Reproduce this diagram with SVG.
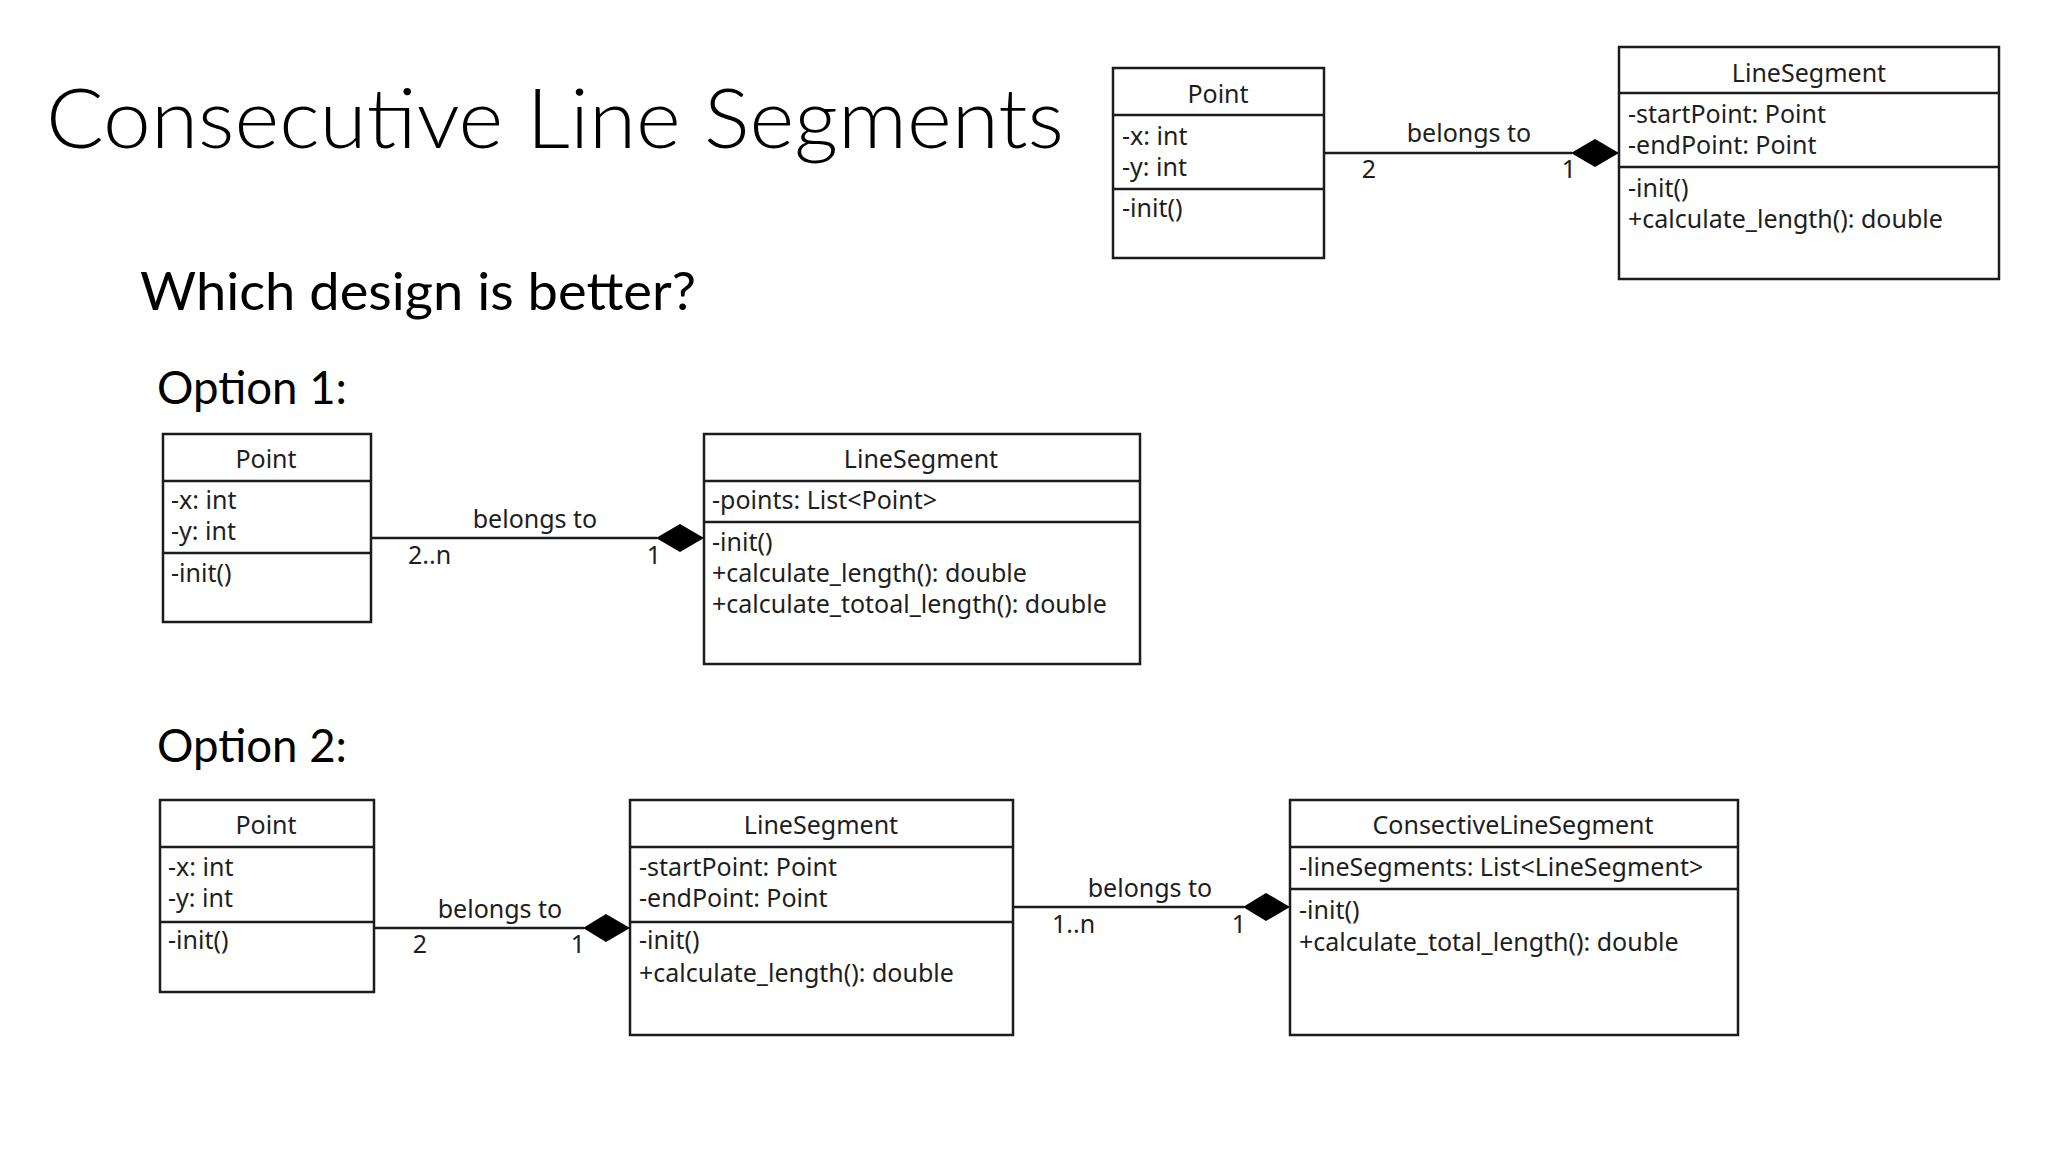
<svg xmlns="http://www.w3.org/2000/svg" width="2048" height="1152" viewBox="0 0 2048 1152">
<style>
.bg{fill:#ffffff}
.box{fill:#ffffff;stroke:#1c1c1c;stroke-width:2.5}
.sep{stroke:#1c1c1c;stroke-width:2.5}
.edge{stroke:#1c1c1c;stroke-width:2.5;fill:none}
.dia{fill:#000000}
.t{font-family:"Noto Sans","Open Sans","DejaVu Sans",sans-serif;font-size:25px;fill:#1e1e1e}
.c{text-anchor:middle}
.h{font-family:Lato,"Open Sans","Liberation Sans",sans-serif;fill:#000000}
.light{font-weight:300}
</style>
<rect class="bg" x="0" y="0" width="2048" height="1152"/>
<g id="headings">
<text class="h light" x="46" y="148" font-size="82" textLength="1018" lengthAdjust="spacingAndGlyphs">Consecutive Line Segments</text>
<text class="h" x="140" y="310" font-size="52" textLength="556" lengthAdjust="spacingAndGlyphs">Which design is better?</text>
<text class="h" x="157" y="404" font-size="46" textLength="190" lengthAdjust="spacingAndGlyphs">Option 1:</text>
<text class="h" x="157" y="762" font-size="46" textLength="190" lengthAdjust="spacingAndGlyphs">Option 2:</text>
</g>

<!-- Top diagram -->
<g id="top-point">
<rect class="box" x="1113" y="68" width="211" height="190"/>
<line class="sep" x1="1113" y1="115" x2="1324" y2="115"/>
<line class="sep" x1="1113" y1="189" x2="1324" y2="189"/>
<text class="t c" x="1218" y="103">Point</text>
<text class="t" x="1122" y="145">-x: int</text>
<text class="t" x="1122" y="176">-y: int</text>
<text class="t" x="1122" y="217">-init()</text>
</g>
<g id="top-linesegment">
<rect class="box" x="1619" y="47" width="380" height="232"/>
<line class="sep" x1="1619" y1="93" x2="1999" y2="93"/>
<line class="sep" x1="1619" y1="167" x2="1999" y2="167"/>
<text class="t c" x="1809" y="82">LineSegment</text>
<text class="t" x="1628" y="123">-startPoint: Point</text>
<text class="t" x="1628" y="154">-endPoint: Point</text>
<text class="t" x="1628" y="197">-init()</text>
<text class="t" x="1628" y="228">+calculate_length(): double</text>
</g>

<!-- Option 1 -->
<g id="opt1-point">
<rect class="box" x="163" y="434" width="208" height="188"/>
<line class="sep" x1="163" y1="481" x2="371" y2="481"/>
<line class="sep" x1="163" y1="553" x2="371" y2="553"/>
<text class="t c" x="266" y="468">Point</text>
<text class="t" x="171" y="509">-x: int</text>
<text class="t" x="171" y="540">-y: int</text>
<text class="t" x="171" y="582">-init()</text>
</g>
<g id="opt1-linesegment">
<rect class="box" x="704" y="434" width="436" height="230"/>
<line class="sep" x1="704" y1="481" x2="1140" y2="481"/>
<line class="sep" x1="704" y1="522" x2="1140" y2="522"/>
<text class="t c" x="921" y="468">LineSegment</text>
<text class="t" x="712" y="509">-points: List&lt;Point&gt;</text>
<text class="t" x="712" y="551">-init()</text>
<text class="t" x="712" y="582">+calculate_length(): double</text>
<text class="t" x="712" y="613">+calculate_totoal_length(): double</text>
</g>

<!-- Option 2 -->
<g id="opt2-point">
<rect class="box" x="160" y="800" width="214" height="192"/>
<line class="sep" x1="160" y1="847" x2="374" y2="847"/>
<line class="sep" x1="160" y1="922" x2="374" y2="922"/>
<text class="t c" x="266" y="834">Point</text>
<text class="t" x="168" y="876">-x: int</text>
<text class="t" x="168" y="907">-y: int</text>
<text class="t" x="168" y="949">-init()</text>
</g>
<g id="opt2-linesegment">
<rect class="box" x="630" y="800" width="383" height="235"/>
<line class="sep" x1="630" y1="847" x2="1013" y2="847"/>
<line class="sep" x1="630" y1="922" x2="1013" y2="922"/>
<text class="t c" x="821" y="834">LineSegment</text>
<text class="t" x="639" y="876">-startPoint: Point</text>
<text class="t" x="639" y="907">-endPoint: Point</text>
<text class="t" x="639" y="949">-init()</text>
<text class="t" x="639" y="982">+calculate_length(): double</text>
</g>
<g id="opt2-consective">
<rect class="box" x="1290" y="800" width="448" height="235"/>
<line class="sep" x1="1290" y1="847" x2="1738" y2="847"/>
<line class="sep" x1="1290" y1="889" x2="1738" y2="889"/>
<text class="t c" x="1513" y="834">ConsectiveLineSegment</text>
<text class="t" x="1299" y="876">-lineSegments: List&lt;LineSegment&gt;</text>
<text class="t" x="1299" y="919">-init()</text>
<text class="t" x="1299" y="951">+calculate_total_length(): double</text>
</g>

<g id="connectors">
<!-- top -->
<line class="edge" x1="1324" y1="153" x2="1572" y2="153"/>
<polygon class="dia" points="1571,153 1595,139 1619,153 1595,167"/>
<text class="t c" x="1469" y="142">belongs to</text>
<text class="t c" x="1369" y="178">2</text>
<text class="t c" x="1569" y="178">1</text>
<!-- option 1 -->
<line class="edge" x1="371" y1="538" x2="657" y2="538"/>
<polygon class="dia" points="656,538 680,524 704,538 680,552"/>
<text class="t c" x="535" y="528">belongs to</text>
<text class="t" x="408" y="564">2..n</text>
<text class="t c" x="654" y="564">1</text>
<!-- option 2 left -->
<line class="edge" x1="374" y1="928" x2="584" y2="928"/>
<polygon class="dia" points="583,928 606,914 630,928 606,942"/>
<text class="t c" x="500" y="918">belongs to</text>
<text class="t c" x="420" y="953">2</text>
<text class="t c" x="578" y="953">1</text>
<!-- option 2 right -->
<line class="edge" x1="1013" y1="907" x2="1244" y2="907"/>
<polygon class="dia" points="1243,907 1266,893 1290,907 1266,921"/>
<text class="t c" x="1150" y="897">belongs to</text>
<text class="t" x="1052" y="933">1..n</text>
<text class="t c" x="1239" y="933">1</text>
</g>
</svg>
